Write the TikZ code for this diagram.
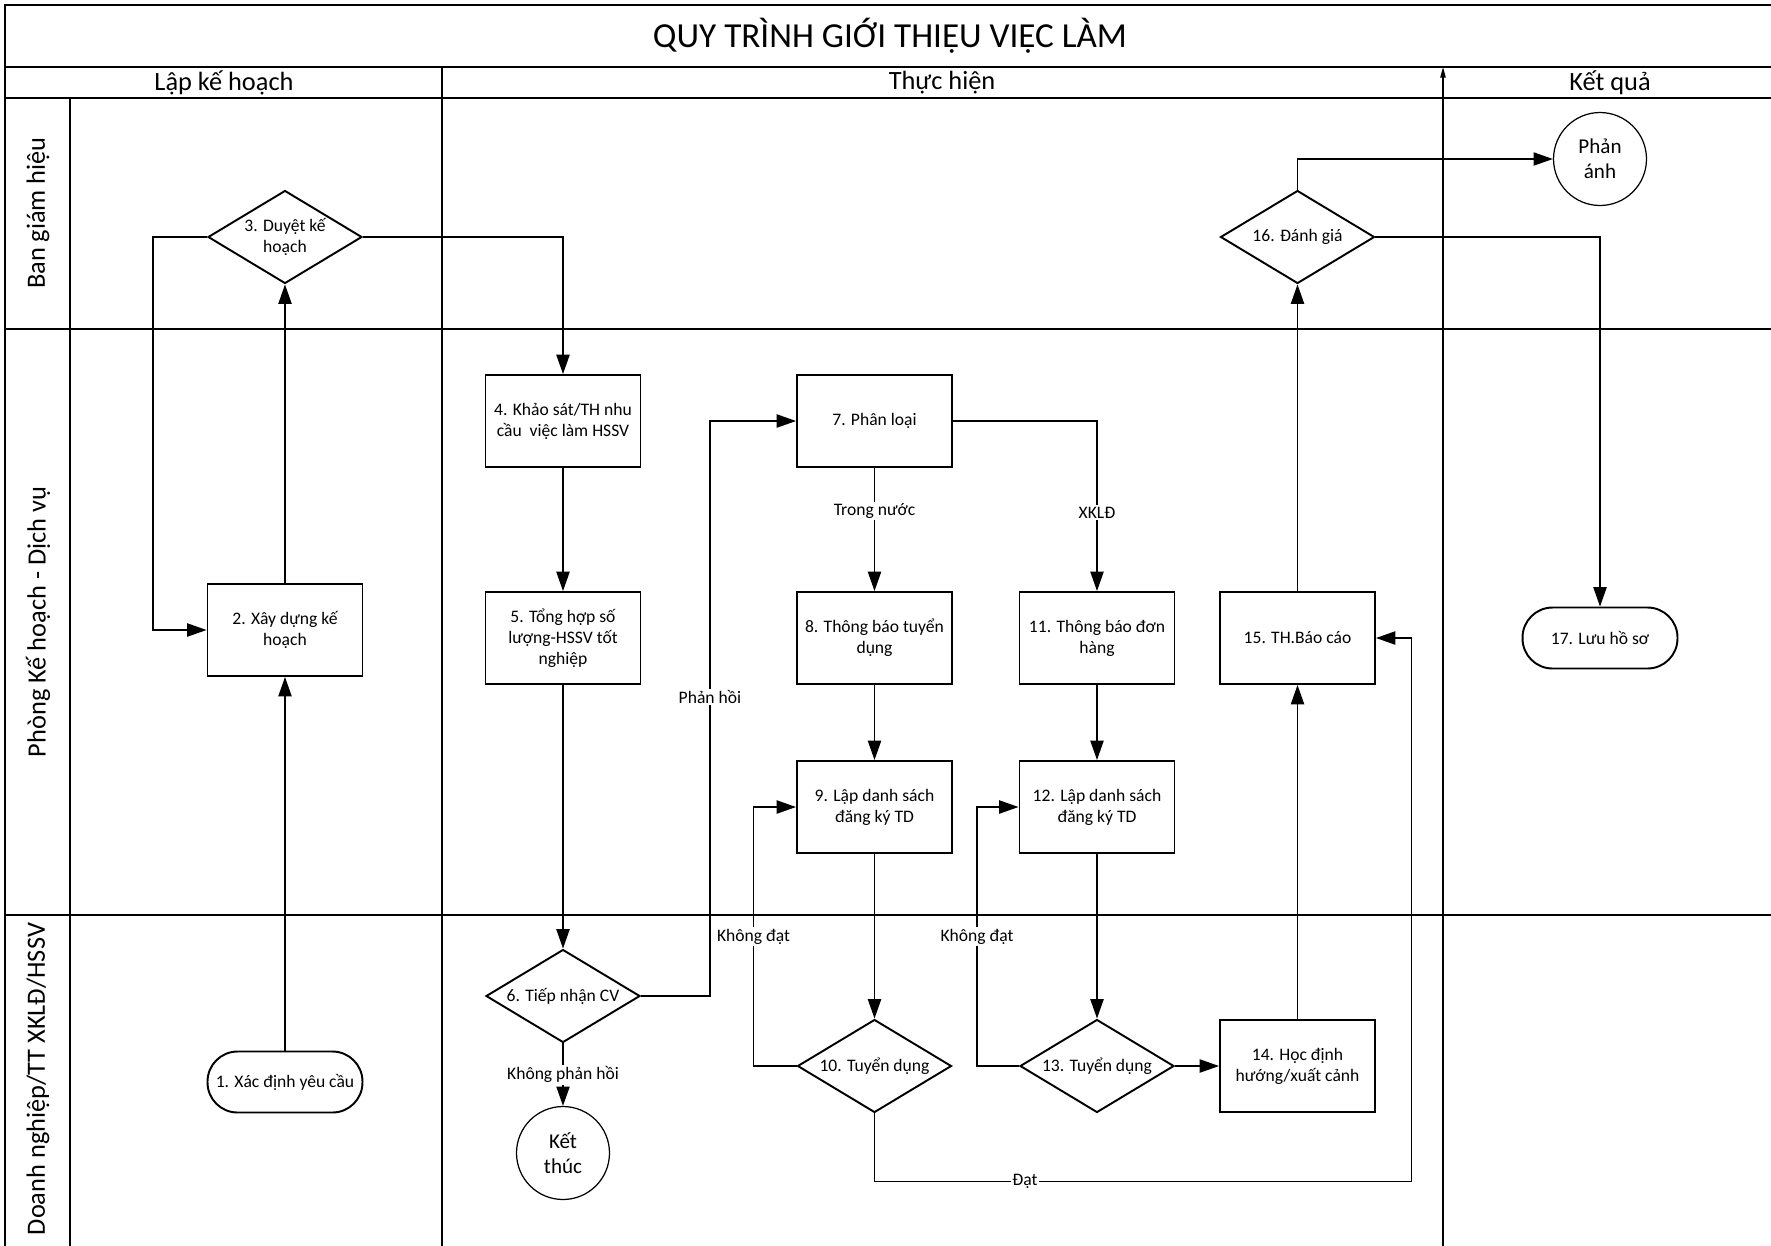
\documentclass[tikz,border=0pt]{standalone}
\usepackage{fontspec}
\setmainfont{Carlito}
\usepackage{tikz}
\usetikzlibrary{positioning, arrows.meta, shapes.geometric}

\begin{document}
\begin{tikzpicture}[x=0.02cm, y=-0.02cm,
    grid/.style={line width=0.85pt},
    box/.style={draw, line width=1.1pt, minimum width=3.1cm, minimum height=1.84cm,
                inner sep=1pt, align=center, font=\fontsize{10}{12}\selectfont},
    dia/.style={draw, diamond, aspect=1.65, line width=1.1pt, minimum width=3.08cm,
                minimum height=1.86cm, inner sep=0pt, align=center,
                font=\fontsize{10}{12}\selectfont},
    term/.style={box, minimum height=1.22cm, rounded corners=0.6cm},
    endc/.style={draw, circle, line width=0.7pt, minimum size=1.86cm, inner sep=0pt,
                 align=center, font=\fontsize{12}{14.5}\selectfont},
    arr/.style={line width=0.85pt, -{Triangle[length=11pt, width=7.5pt]}},
    lbl/.style={fill=white, inner sep=1pt, font=\fontsize{10}{12}\selectfont},
    head/.style={font=\fontsize{15}{18}\selectfont}]
  \useasboundingbox (0,0) rectangle (1771,1245);

  % frame, columns and lanes
  \draw[grid] (5,1250) -- (5,5) -- (1780,5);
  \foreach \y in {67,98,329,915}
    \draw[grid] (5,\y) -- (1780,\y);
  \draw[grid] (70,98) -- (70,1250);
  \draw[grid] (442,67) -- (442,1250);
  \draw[grid, -{Triangle[length=6pt, width=3pt]}] (1443,1250) -- (1443,67);

  \node[font=\fontsize{20}{24}\selectfont] (title) at (890,36) {QUY TRÌNH GIỚI THIỆU VIỆC LÀM};
  \node[head] (c1) at (224,82.5) {Lập kế hoạch};
  \node[head] (c2) at (942,82.5) {Thực hiện};
  \node[head] (c3) at (1610,82.5) {Kết quả};
  \node[head, rotate=90] (l1) at (38,213) {Ban giám hiệu};
  \node[head, rotate=90] (l2) at (38,622) {Phòng Kế hoạch - Dịch vụ};
  \node[head, rotate=90] (l3) at (38,1079) {Doanh nghiệp/TT XKLĐ/HSSV};

  % steps
  \node[term] (n1) at (285,1082) {1. Xác định yêu cầu};
  \node[box]  (n2) at (285,630) {2. Xây dựng kế\\hoạch};
  \node[dia]  (n3) at (285,237) {3. Duyệt kế\\hoạch};
  \node[box]  (n4) at (563,421) {4. Khảo sát/TH nhu\\cầu\ \ việc làm HSSV};
  \node[box]  (n5) at (563,638) {5. Tổng hợp số\\lượng-HSSV tốt\\nghiệp};
  \node[dia]  (n6) at (563,996) {6. Tiếp nhận CV};
  \node[endc] (kt) at (563,1153) {Kết\\thúc};
  \node[box]  (n7) at (874.5,421) {7. Phân loại};
  \node[box]  (n8) at (874.5,638) {8. Thông báo tuyển\\dụng};
  \node[box]  (n9) at (874.5,807) {9. Lập danh sách\\đăng ký TD};
  \node[dia]  (n10) at (874.5,1066) {10. Tuyển dụng};
  \node[box]  (n11) at (1097,638) {11. Thông báo đơn\\hàng};
  \node[box]  (n12) at (1097,807) {12. Lập danh sách\\đăng ký TD};
  \node[dia]  (n13) at (1097,1066) {13. Tuyển dụng};
  \node[box]  (n14) at (1297.5,1066) {14. Học định\\hướng/xuất cảnh};
  \node[box]  (n15) at (1297.5,638) {15. TH.Báo cáo};
  \node[dia]  (n16) at (1297.5,237) {16. Đánh giá};
  \node[endc] (pa) at (1600,159) {Phản\\ánh};
  \node[term] (n17) at (1600,638) {17. Lưu hồ sơ};

  % straight links
  \foreach \a/\b in {n1/n2, n2/n3, n4/n5, n5/n6, n8/n9, n9/n10, n11/n12,
                     n12/n13, n13/n14, n14/n15, n15/n16}
    \draw[arr] (\a) -- (\b);

  % bent links
  \draw[arr] (n3.west) -- ++(-54,0) |- (n2.west);
  \draw[arr] (n3.east) -| (n4.north);
  \draw[arr] (n6.east) -- ++(69,0) |- node[lbl, pos=0.26]{Phản hồi} (n7.west);
  \draw[arr] (n6) -- node[lbl]{Không phản hồi} (kt);
  \draw[arr] (n7) -- node[lbl, pos=0.35]{Trong nước} (n8);
  \draw[arr] (n7.east) -| node[lbl, pos=0.77]{XKLĐ} (n11.north);
  \draw[arr] (n10.west) -- ++(-43,0) |- node[lbl, pos=0.25]{Không đạt} (n9.west);
  \draw[arr] (n13.west) -- ++(-42,0) |- node[lbl, pos=0.25]{Không đạt} (n12.west);
  \draw[arr] (n10.south) -- ++(0,68) -- node[lbl, pos=0.28]{Đạt} ++(537,0) |- (n15.east);
  \draw[arr] (n16.north) |- (pa.west);
  \draw[arr] (n16.east) -| (n17.north);
\end{tikzpicture}
\end{document}
